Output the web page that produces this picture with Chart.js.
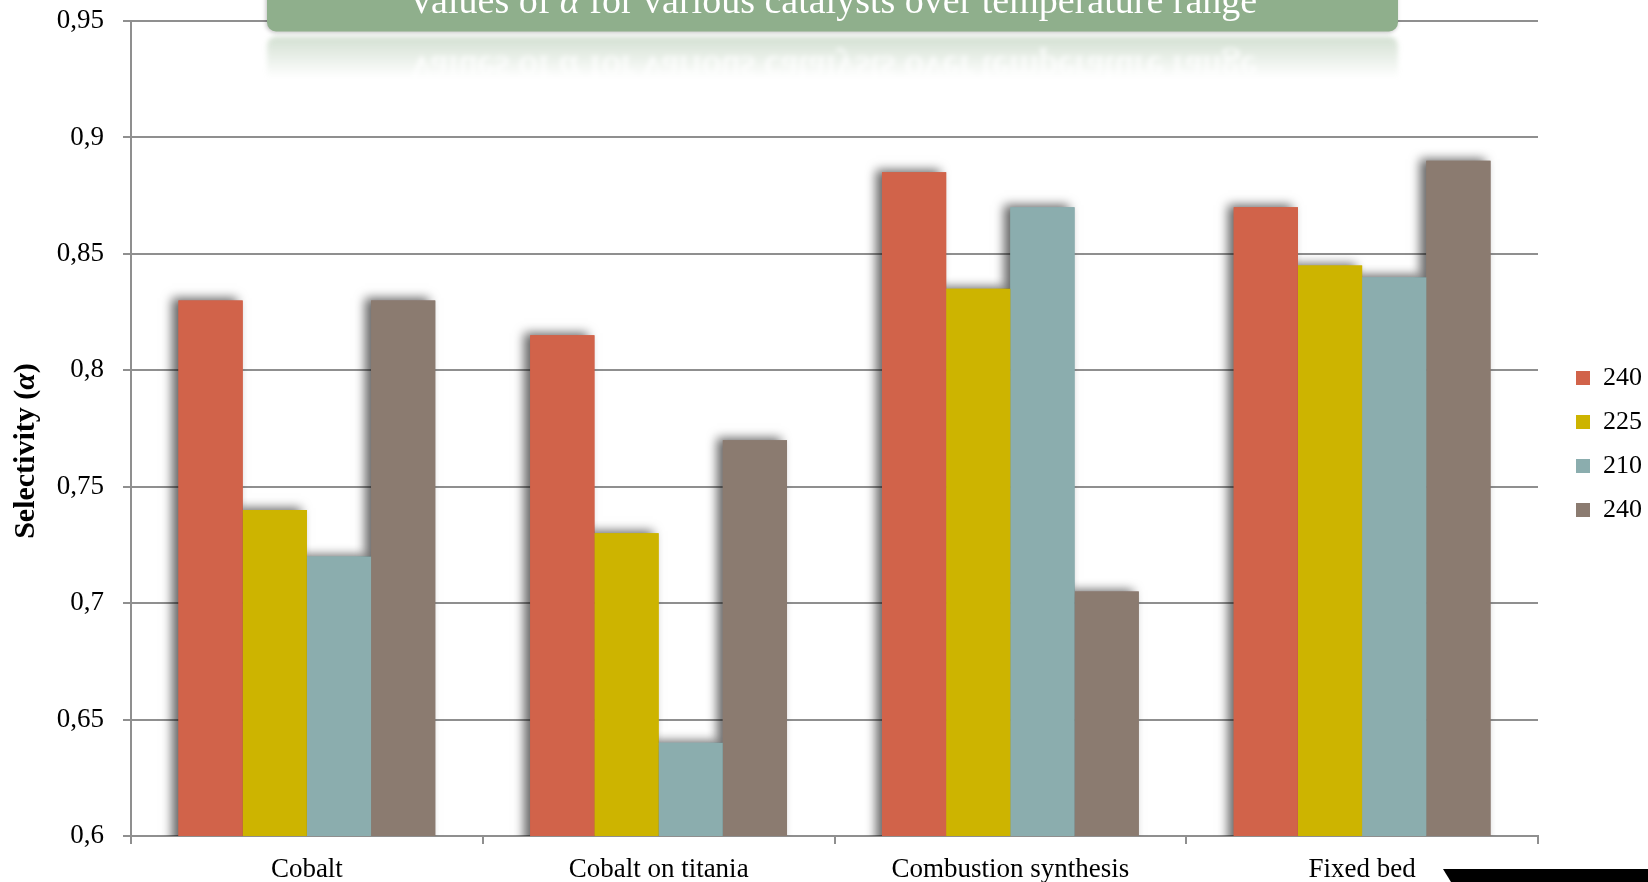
<!DOCTYPE html>
<html>
<head>
<meta charset="utf-8">
<title>Selectivity by catalyst</title>
<script src="https://cdn.jsdelivr.net/npm/chart.js@4.4.1/dist/chart.umd.min.js"></script>
<style>
  html, body { margin: 0; padding: 0; background: #ffffff; }
  #wrap { width: 1648px; height: 882px; position: relative; }
</style>
</head>
<body>
<div id="wrap"><canvas id="c"></canvas></div>
<script>
// Catalysts on the category axis
const categories = ['Cobalt', 'Cobalt on titania', 'Combustion synthesis', 'Fixed bed'];
// Temperature series (legend labels)
const seriesLabels = ['240', '225', '210', '240'];
// Selectivity values per series, one per catalyst
const values240a = [0.83, 0.815, 0.885, 0.87];
const values225 = [0.74, 0.73, 0.835, 0.845];
const values210 = [0.72, 0.64, 0.87, 0.84];
const values240b = [0.83, 0.77, 0.705, 0.89];
// Value-axis tick labels (decimal comma)
const yTickLabels = ['0,6', '0,65', '0,7', '0,75', '0,8', '0,85', '0,9', '0,95'];
const chartTitle = 'Values of α for various catalysts over temperature range';
const yAxisTitle = 'Selectivity (α)';

const seriesColors = ['#D1634A', '#CDB400', '#8BADAE', '#8B7B70'];
const gridColor = '#8f8f8f';
const serif = '"Liberation Serif", "Times New Roman", serif';

// Draws a string with its Greek alpha in italics, starting at x (left aligned).
function drawWithItalicAlpha(c, text, x, y, baseFont, italicFont) {
  const parts = text.split('α');
  let cx = x;
  parts.forEach((p, i) => {
    c.font = baseFont;
    c.fillText(p, cx, y);
    cx += c.measureText(p).width;
    if (i < parts.length - 1) {
      c.font = italicFont;
      c.fillText('α', cx, y);
      cx += c.measureText('α').width;
    }
  });
}
function measureWithItalicAlpha(c, text, baseFont, italicFont) {
  const parts = text.split('α');
  let w = 0;
  parts.forEach((p, i) => {
    c.font = baseFont; w += c.measureText(p).width;
    if (i < parts.length - 1) { c.font = italicFont; w += c.measureText('α').width; }
  });
  return w;
}

// Green title banner (with a soft reflection underneath)
const BANNER = { left: 267, right: 1398, top: -20, bottom: 31.5, radius: 9, color: '#8FAF8C' };
function drawBanner(c, withShadow) {
  c.save();
  if (withShadow) {
    c.shadowColor = 'rgba(0,0,0,0.25)';
    c.shadowBlur = 4;
    c.shadowOffsetX = -1;
    c.shadowOffsetY = 1;
  }
  c.beginPath();
  c.roundRect(BANNER.left, BANNER.top, BANNER.right - BANNER.left, BANNER.bottom - BANNER.top, BANNER.radius);
  c.fillStyle = BANNER.color;
  c.fill();
  c.restore();
  c.save();
  c.fillStyle = '#ffffff';
  c.textBaseline = 'alphabetic';
  const f = '38px ' + serif, fi = 'italic 38px ' + serif;
  const w = measureWithItalicAlpha(c, chartTitle, f, fi);
  const cx = (BANNER.left + BANNER.right) / 2;
  drawWithItalicAlpha(c, chartTitle, cx - w / 2, 12.5, f, fi);
  c.restore();
}

const decorPlugin = {
  id: 'decor',
  afterDraw(chart) {
    const ctx = chart.ctx;

    // reflection of the banner
    const off = document.createElement('canvas');
    off.width = 1648; off.height = 60;
    const o = off.getContext('2d');
    o.save();
    o.translate(0, 32);
    o.scale(1, -1);
    drawBanner(o, false);
    o.restore();
    o.globalCompositeOperation = 'destination-in';
    const g = o.createLinearGradient(0, 0, 0, 42);
    g.addColorStop(0, 'rgba(0,0,0,0.4)');
    g.addColorStop(1, 'rgba(0,0,0,0)');
    o.fillStyle = g;
    o.fillRect(0, 0, 1648, 60);
    ctx.save();
    ctx.filter = 'blur(2.5px)';
    ctx.drawImage(off, 0, 36);
    ctx.restore();

    drawBanner(ctx, true);

    // rotated value-axis title
    ctx.save();
    ctx.fillStyle = '#000000';
    ctx.textBaseline = 'alphabetic';
    const f = 'bold 30px ' + serif, fi = 'bold italic 30px ' + serif;
    const w = measureWithItalicAlpha(ctx, yAxisTitle, f, fi);
    ctx.translate(34, 451);
    ctx.rotate(-Math.PI / 2);
    drawWithItalicAlpha(ctx, yAxisTitle, -w / 2, 0, f, fi);
    ctx.restore();

    // dark corner tab at bottom right
    ctx.save();
    ctx.fillStyle = '#000000';
    ctx.beginPath();
    ctx.moveTo(1443, 869);
    ctx.lineTo(1648, 869);
    ctx.lineTo(1648, 882);
    ctx.lineTo(1451, 882);
    ctx.closePath();
    ctx.fill();
    ctx.restore();
  }
};

// Soft drop shadow behind the bars (painted before the bars themselves)
const barShadowPlugin = {
  id: 'barShadow',
  beforeDatasetsDraw(chart) {
    const ctx = chart.ctx;
    const a = chart.chartArea;
    ctx.save();
    ctx.beginPath();
    ctx.rect(a.left, a.top - 20, a.right - a.left, a.bottom - a.top + 20);
    ctx.clip();
    ctx.shadowColor = 'rgba(0,0,0,0.6)';
    ctx.shadowBlur = 10;
    ctx.shadowOffsetX = -6;
    ctx.shadowOffsetY = -2;
    chart.data.datasets.forEach((ds, i) => {
      const meta = chart.getDatasetMeta(i);
      meta.data.forEach(el => el.draw(ctx));
    });
    ctx.restore();
  }
};

const seriesData = [values240a, values225, values210, values240b];

new Chart(document.getElementById('c'), {
  type: 'bar',
  data: {
    labels: categories,
    datasets: seriesData.map((d, i) => ({
      label: seriesLabels[i],
      data: d,
      backgroundColor: seriesColors[i],
      borderWidth: 0
    }))
  },
  options: {
    responsive: true,
    maintainAspectRatio: false,
    animation: false,
    devicePixelRatio: 1,
    layout: { padding: { top: 21, left: 0, right: 0, bottom: 0 } },
    datasets: { bar: { categoryPercentage: 0.73, barPercentage: 1 } },
    plugins: {
      title: { display: false },
      tooltip: { enabled: false },
      legend: {
        position: 'right',
        maxWidth: 90,
        // spacer that nudges the legend column up a little
        title: { display: true, text: ' ', font: { size: 10, lineHeight: 1 }, padding: { top: 0, bottom: -25 } },
        labels: {
          boxWidth: 14,
          boxHeight: 14,
          padding: 18,
          color: '#000000',
          font: { family: serif, size: 26 }
        }
      }
    },
    scales: {
      x: {
        grid: { display: true, drawOnChartArea: false, offset: true, tickLength: 8, color: gridColor, lineWidth: 2 },
        border: { color: gridColor, width: 2 },
        ticks: { color: '#000000', font: { family: serif, size: 27 }, padding: 10, maxRotation: 0 },
        afterFit: s => { s.height = 46; s.paddingLeft = 0; s.paddingRight = 0; }
      },
      y: {
        min: 0.6,
        max: 0.95,
        ticks: {
          stepSize: 0.05,
          padding: 19,
          color: '#000000',
          font: { family: serif, size: 27 },
          callback: (v, i) => yTickLabels[i]
        },
        grid: { color: gridColor, lineWidth: 2, tickLength: 8 },
        border: { color: gridColor, width: 2 },
        afterFit: s => { s.width = 131; s.paddingTop = 0; s.paddingBottom = 0; }
      },
      y2: {
        position: 'right',
        display: true,
        grid: { display: false },
        border: { display: false },
        ticks: { display: false },
        afterFit: s => { s.width = 20; s.paddingTop = 0; s.paddingBottom = 0; }
      }
    }
  },
  plugins: [barShadowPlugin, decorPlugin]
});
</script>
</body>
</html>
